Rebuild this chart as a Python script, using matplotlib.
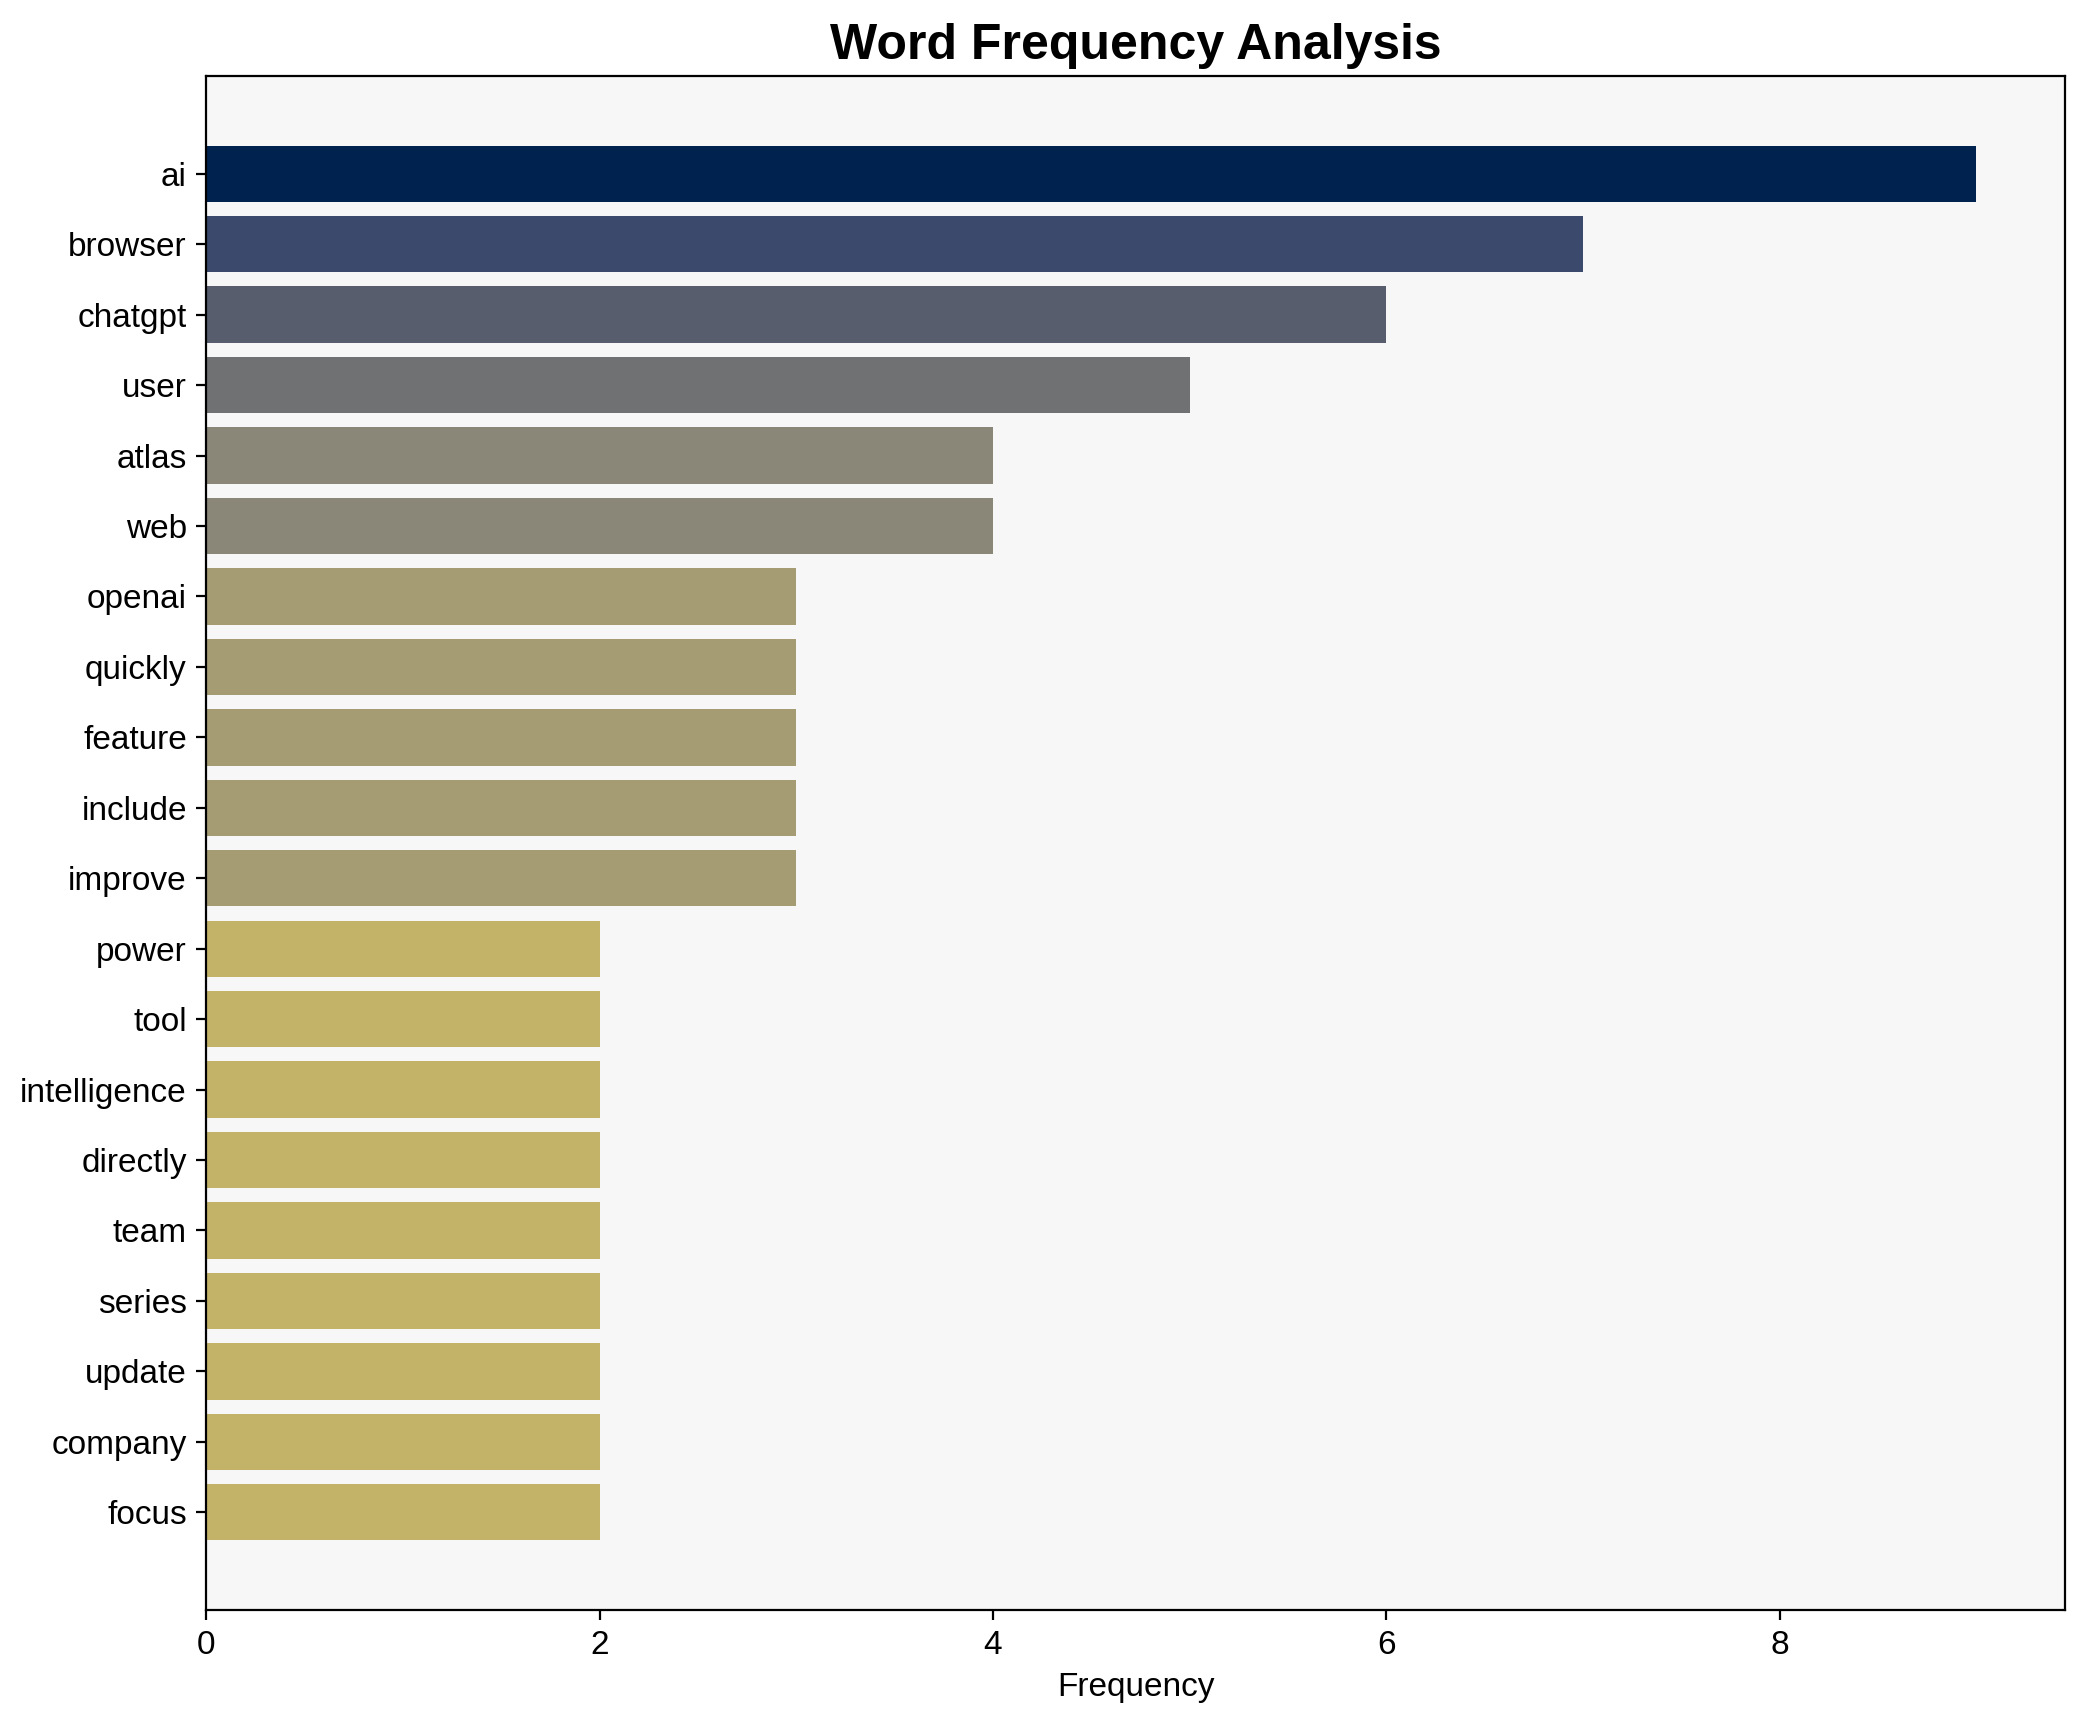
import numpy as np
import matplotlib
matplotlib.use("Agg")
import matplotlib.pyplot as plt

# Données
words = ["ai", "browser", "chatgpt", "user", "atlas", "web", "openai", "quickly",
         "feature", "include", "improve", "power", "tool", "intelligence",
         "directly", "team", "series", "update", "company", "focus"]
freqs = [9, 7, 6, 5, 4, 4, 3, 3, 3, 3, 3, 2, 2, 2, 2, 2, 2, 2, 2, 2]

plt.rcParams['font.family'] = ['Liberation Sans', 'DejaVu Sans']

fig = plt.figure(figsize=(2086 / 200, 1722 / 200), dpi=200)
ax = fig.add_axes([0.0989, 0.0649, 0.9898 - 0.0989, 0.956 - 0.0649])
ax.set_facecolor("#f7f7f7")

# Couleurs selon la fréquence
fmax = max(freqs)
colors = [plt.cm.cividis(1 - f / fmax) for f in freqs]

y = np.arange(len(words))
ax.barh(y, freqs, color=colors, height=0.8)
ax.set_yticks(y)
ax.set_yticklabels(words, fontsize=12)
ax.invert_yaxis()
ax.tick_params(axis='x', labelsize=12)

ax.set_xlabel("Frequency", fontsize=12)
ax.set_title("Word Frequency Analysis", fontsize=18, fontweight='bold')

for s in ax.spines.values():
    s.set_color("black")

fig.savefig("out.png", dpi=200)
